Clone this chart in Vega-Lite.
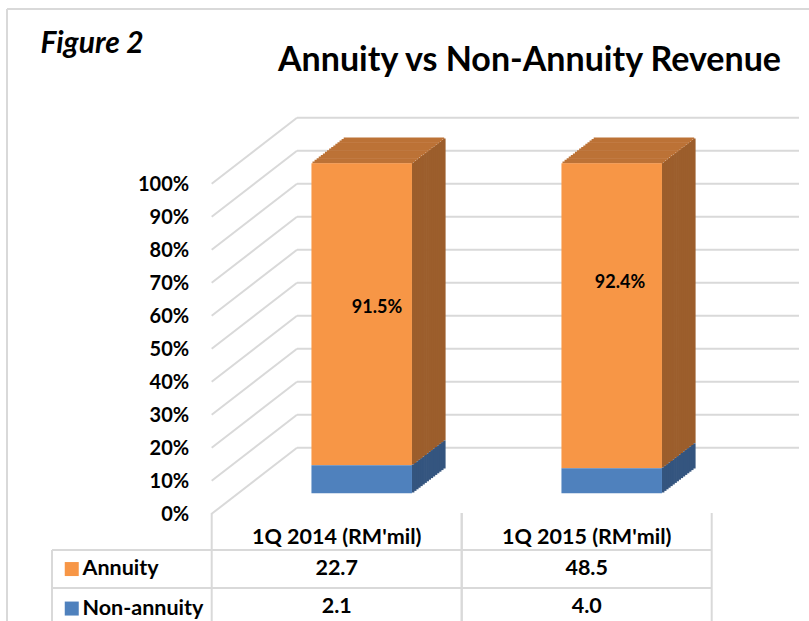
{
 "$schema": "https://vega.github.io/schema/vega-lite/v6.json",
 "width": 500, "height": 330,
 "autosize": {"type": "none"},
 "padding": {"left": 211.7, "top": 163.3, "right": 97.3, "bottom": 127.7},
 "background": "#FFFFFF",
 "config": {
  "view": {"stroke": null},
  "font": "Lato",
  "axis": {"domain": false, "ticks": false, "grid": false, "labelOverlap": false, "labelFont": "Lato", "labelFontWeight": "bold", "labelColor": "#000000", "titleFont": "Lato", "titleColor": "#000000"},
  "axisY": {"labelOverlap": false, "tickCount": 11},
  "legend": {"labelFont": "Lato"}
 },
 "datasets": {
  "rev": [
   {"category": "1Q 2014 (RM'mil)", "series": "Annuity", "value": 22.7, "share": 0.915},
   {"category": "1Q 2014 (RM'mil)", "series": "Non-annuity", "value": 2.1, "share": 0.085},
   {"category": "1Q 2015 (RM'mil)", "series": "Annuity", "value": 48.5, "share": 0.924},
   {"category": "1Q 2015 (RM'mil)", "series": "Non-annuity", "value": 4.0, "share": 0.076}
  ],
  "ticks": [{"v": 0}, {"v": 0.1}, {"v": 0.2}, {"v": 0.3}, {"v": 0.4}, {"v": 0.5}, {"v": 0.6}, {"v": 0.7}, {"v": 0.8}, {"v": 0.9}, {"v": 1}]
 },
 "layer": [
  {"data": {"name": "rev"}, "mark": {"type": "rule", "color": "#D9D9D9", "strokeWidth": 2, "xOffset": -329.7, "yOffset": -154.3, "y2Offset": 130},
   "encoding": {"x": {"datum": "1Q 2014 (RM'mil)", "type": "nominal"}, "y": {"datum": 1, "type": "quantitative"}, "y2": {"datum": 0}}},
  {"data": {"name": "rev"}, "mark": {"type": "rule", "color": "#D9D9D9", "strokeWidth": 2, "xOffset": -329.7, "x2Offset": 240, "yOffset": -154.3},
   "encoding": {"x": {"datum": "1Q 2014 (RM'mil)", "type": "nominal"}, "x2": {"datum": "1Q 2015 (RM'mil)"}, "y": {"datum": 1, "type": "quantitative"}}},
  {"data": {"name": "ticks"}, "mark": {"type": "rule", "color": "#D9D9D9", "strokeWidth": 2, "xOffset": -125, "x2Offset": -39.7, "yOffset": 20.5, "y2Offset": -45.5},
   "encoding": {"x": {"datum": "1Q 2014 (RM'mil)", "type": "nominal"}, "x2": {"datum": "1Q 2014 (RM'mil)"}, "y": {"field": "v", "type": "quantitative"}, "y2": {"field": "v"}}},
  {"data": {"name": "ticks"}, "mark": {"type": "rule", "color": "#D9D9D9", "strokeWidth": 2, "xOffset": -39.7, "x2Offset": 212.3, "yOffset": -45.5},
   "encoding": {"x": {"datum": "1Q 2014 (RM'mil)", "type": "nominal"}, "x2": {"datum": "1Q 2015 (RM'mil)"}, "y": {"field": "v", "type": "quantitative"}}},

  {"data": {"name": "rev"}, "mark": {"type": "bar", "width": 2.8, "xOffset": 107.49, "yOffset": -24.8, "y2Offset": -24.8}, "encoding": {"x": {"field": "category", "type": "nominal"}, "y": {"field": "value", "type": "quantitative", "stack": "normalize"}, "detail": {"field": "series"}, "order": {"field": "series", "sort": "descending"}, "fill": {"condition": {"test": "datum.series === 'Annuity'", "value": "#9C5E2C"}, "value": "#34557F"}}},
  {"data": {"name": "rev"}, "mark": {"type": "bar", "width": 2.8, "xOffset": 105.41, "yOffset": -23.2, "y2Offset": -23.2}, "encoding": {"x": {"field": "category", "type": "nominal"}, "y": {"field": "value", "type": "quantitative", "stack": "normalize"}, "detail": {"field": "series"}, "order": {"field": "series", "sort": "descending"}, "fill": {"condition": {"test": "datum.series === 'Annuity'", "value": "#9C5E2C"}, "value": "#34557F"}}},
  {"data": {"name": "rev"}, "mark": {"type": "bar", "width": 2.8, "xOffset": 103.33, "yOffset": -21.6, "y2Offset": -21.6}, "encoding": {"x": {"field": "category", "type": "nominal"}, "y": {"field": "value", "type": "quantitative", "stack": "normalize"}, "detail": {"field": "series"}, "order": {"field": "series", "sort": "descending"}, "fill": {"condition": {"test": "datum.series === 'Annuity'", "value": "#9C5E2C"}, "value": "#34557F"}}},
  {"data": {"name": "rev"}, "mark": {"type": "bar", "width": 2.8, "xOffset": 101.25, "yOffset": -20.0, "y2Offset": -20.0}, "encoding": {"x": {"field": "category", "type": "nominal"}, "y": {"field": "value", "type": "quantitative", "stack": "normalize"}, "detail": {"field": "series"}, "order": {"field": "series", "sort": "descending"}, "fill": {"condition": {"test": "datum.series === 'Annuity'", "value": "#9C5E2C"}, "value": "#34557F"}}},
  {"data": {"name": "rev"}, "mark": {"type": "bar", "width": 2.8, "xOffset": 99.17, "yOffset": -18.4, "y2Offset": -18.4}, "encoding": {"x": {"field": "category", "type": "nominal"}, "y": {"field": "value", "type": "quantitative", "stack": "normalize"}, "detail": {"field": "series"}, "order": {"field": "series", "sort": "descending"}, "fill": {"condition": {"test": "datum.series === 'Annuity'", "value": "#9C5E2C"}, "value": "#34557F"}}},
  {"data": {"name": "rev"}, "mark": {"type": "bar", "width": 2.8, "xOffset": 97.09, "yOffset": -16.8, "y2Offset": -16.8}, "encoding": {"x": {"field": "category", "type": "nominal"}, "y": {"field": "value", "type": "quantitative", "stack": "normalize"}, "detail": {"field": "series"}, "order": {"field": "series", "sort": "descending"}, "fill": {"condition": {"test": "datum.series === 'Annuity'", "value": "#9C5E2C"}, "value": "#34557F"}}},
  {"data": {"name": "rev"}, "mark": {"type": "bar", "width": 2.8, "xOffset": 95.01, "yOffset": -15.2, "y2Offset": -15.2}, "encoding": {"x": {"field": "category", "type": "nominal"}, "y": {"field": "value", "type": "quantitative", "stack": "normalize"}, "detail": {"field": "series"}, "order": {"field": "series", "sort": "descending"}, "fill": {"condition": {"test": "datum.series === 'Annuity'", "value": "#9C5E2C"}, "value": "#34557F"}}},
  {"data": {"name": "rev"}, "mark": {"type": "bar", "width": 2.8, "xOffset": 92.93, "yOffset": -13.6, "y2Offset": -13.6}, "encoding": {"x": {"field": "category", "type": "nominal"}, "y": {"field": "value", "type": "quantitative", "stack": "normalize"}, "detail": {"field": "series"}, "order": {"field": "series", "sort": "descending"}, "fill": {"condition": {"test": "datum.series === 'Annuity'", "value": "#9C5E2C"}, "value": "#34557F"}}},
  {"data": {"name": "rev"}, "mark": {"type": "bar", "width": 2.8, "xOffset": 90.85, "yOffset": -12.0, "y2Offset": -12.0}, "encoding": {"x": {"field": "category", "type": "nominal"}, "y": {"field": "value", "type": "quantitative", "stack": "normalize"}, "detail": {"field": "series"}, "order": {"field": "series", "sort": "descending"}, "fill": {"condition": {"test": "datum.series === 'Annuity'", "value": "#9C5E2C"}, "value": "#34557F"}}},
  {"data": {"name": "rev"}, "mark": {"type": "bar", "width": 2.8, "xOffset": 88.77, "yOffset": -10.4, "y2Offset": -10.4}, "encoding": {"x": {"field": "category", "type": "nominal"}, "y": {"field": "value", "type": "quantitative", "stack": "normalize"}, "detail": {"field": "series"}, "order": {"field": "series", "sort": "descending"}, "fill": {"condition": {"test": "datum.series === 'Annuity'", "value": "#9C5E2C"}, "value": "#34557F"}}},
  {"data": {"name": "rev"}, "mark": {"type": "bar", "width": 2.8, "xOffset": 86.69, "yOffset": -8.8, "y2Offset": -8.8}, "encoding": {"x": {"field": "category", "type": "nominal"}, "y": {"field": "value", "type": "quantitative", "stack": "normalize"}, "detail": {"field": "series"}, "order": {"field": "series", "sort": "descending"}, "fill": {"condition": {"test": "datum.series === 'Annuity'", "value": "#9C5E2C"}, "value": "#34557F"}}},
  {"data": {"name": "rev"}, "mark": {"type": "bar", "width": 2.8, "xOffset": 84.61, "yOffset": -7.2, "y2Offset": -7.2}, "encoding": {"x": {"field": "category", "type": "nominal"}, "y": {"field": "value", "type": "quantitative", "stack": "normalize"}, "detail": {"field": "series"}, "order": {"field": "series", "sort": "descending"}, "fill": {"condition": {"test": "datum.series === 'Annuity'", "value": "#9C5E2C"}, "value": "#34557F"}}},
  {"data": {"name": "rev"}, "mark": {"type": "bar", "width": 2.8, "xOffset": 82.53, "yOffset": -5.6, "y2Offset": -5.6}, "encoding": {"x": {"field": "category", "type": "nominal"}, "y": {"field": "value", "type": "quantitative", "stack": "normalize"}, "detail": {"field": "series"}, "order": {"field": "series", "sort": "descending"}, "fill": {"condition": {"test": "datum.series === 'Annuity'", "value": "#9C5E2C"}, "value": "#34557F"}}},
  {"data": {"name": "rev"}, "mark": {"type": "bar", "width": 2.8, "xOffset": 80.45, "yOffset": -4.0, "y2Offset": -4.0}, "encoding": {"x": {"field": "category", "type": "nominal"}, "y": {"field": "value", "type": "quantitative", "stack": "normalize"}, "detail": {"field": "series"}, "order": {"field": "series", "sort": "descending"}, "fill": {"condition": {"test": "datum.series === 'Annuity'", "value": "#9C5E2C"}, "value": "#34557F"}}},
  {"data": {"name": "rev"}, "mark": {"type": "bar", "width": 2.8, "xOffset": 78.37, "yOffset": -2.4, "y2Offset": -2.4}, "encoding": {"x": {"field": "category", "type": "nominal"}, "y": {"field": "value", "type": "quantitative", "stack": "normalize"}, "detail": {"field": "series"}, "order": {"field": "series", "sort": "descending"}, "fill": {"condition": {"test": "datum.series === 'Annuity'", "value": "#9C5E2C"}, "value": "#34557F"}}},
  {"data": {"name": "rev"}, "mark": {"type": "bar", "width": 2.8, "xOffset": 76.29, "yOffset": -0.8, "y2Offset": -0.8}, "encoding": {"x": {"field": "category", "type": "nominal"}, "y": {"field": "value", "type": "quantitative", "stack": "normalize"}, "detail": {"field": "series"}, "order": {"field": "series", "sort": "descending"}, "fill": {"condition": {"test": "datum.series === 'Annuity'", "value": "#9C5E2C"}, "value": "#34557F"}}},

  {"data": {"name": "rev"}, "transform": [{"filter": {"field": "series", "equal": "Annuity"}}], "mark": {"type": "bar", "width": 100.5, "color": "#BC7236", "xOffset": 57.24, "yOffset": -23.7, "y2Offset": -25.9}, "encoding": {"x": {"field": "category", "type": "nominal"}, "y": {"datum": 1, "type": "quantitative"}, "y2": {"datum": 1}}},
  {"data": {"name": "rev"}, "transform": [{"filter": {"field": "series", "equal": "Annuity"}}], "mark": {"type": "bar", "width": 100.5, "color": "#BC7236", "xOffset": 55.16, "yOffset": -22.1, "y2Offset": -24.3}, "encoding": {"x": {"field": "category", "type": "nominal"}, "y": {"datum": 1, "type": "quantitative"}, "y2": {"datum": 1}}},
  {"data": {"name": "rev"}, "transform": [{"filter": {"field": "series", "equal": "Annuity"}}], "mark": {"type": "bar", "width": 100.5, "color": "#BC7236", "xOffset": 53.08, "yOffset": -20.5, "y2Offset": -22.7}, "encoding": {"x": {"field": "category", "type": "nominal"}, "y": {"datum": 1, "type": "quantitative"}, "y2": {"datum": 1}}},
  {"data": {"name": "rev"}, "transform": [{"filter": {"field": "series", "equal": "Annuity"}}], "mark": {"type": "bar", "width": 100.5, "color": "#BC7236", "xOffset": 51.0, "yOffset": -18.9, "y2Offset": -21.1}, "encoding": {"x": {"field": "category", "type": "nominal"}, "y": {"datum": 1, "type": "quantitative"}, "y2": {"datum": 1}}},
  {"data": {"name": "rev"}, "transform": [{"filter": {"field": "series", "equal": "Annuity"}}], "mark": {"type": "bar", "width": 100.5, "color": "#BC7236", "xOffset": 48.92, "yOffset": -17.3, "y2Offset": -19.5}, "encoding": {"x": {"field": "category", "type": "nominal"}, "y": {"datum": 1, "type": "quantitative"}, "y2": {"datum": 1}}},
  {"data": {"name": "rev"}, "transform": [{"filter": {"field": "series", "equal": "Annuity"}}], "mark": {"type": "bar", "width": 100.5, "color": "#BC7236", "xOffset": 46.84, "yOffset": -15.7, "y2Offset": -17.9}, "encoding": {"x": {"field": "category", "type": "nominal"}, "y": {"datum": 1, "type": "quantitative"}, "y2": {"datum": 1}}},
  {"data": {"name": "rev"}, "transform": [{"filter": {"field": "series", "equal": "Annuity"}}], "mark": {"type": "bar", "width": 100.5, "color": "#BC7236", "xOffset": 44.76, "yOffset": -14.1, "y2Offset": -16.3}, "encoding": {"x": {"field": "category", "type": "nominal"}, "y": {"datum": 1, "type": "quantitative"}, "y2": {"datum": 1}}},
  {"data": {"name": "rev"}, "transform": [{"filter": {"field": "series", "equal": "Annuity"}}], "mark": {"type": "bar", "width": 100.5, "color": "#BC7236", "xOffset": 42.68, "yOffset": -12.5, "y2Offset": -14.7}, "encoding": {"x": {"field": "category", "type": "nominal"}, "y": {"datum": 1, "type": "quantitative"}, "y2": {"datum": 1}}},
  {"data": {"name": "rev"}, "transform": [{"filter": {"field": "series", "equal": "Annuity"}}], "mark": {"type": "bar", "width": 100.5, "color": "#BC7236", "xOffset": 40.6, "yOffset": -10.9, "y2Offset": -13.1}, "encoding": {"x": {"field": "category", "type": "nominal"}, "y": {"datum": 1, "type": "quantitative"}, "y2": {"datum": 1}}},
  {"data": {"name": "rev"}, "transform": [{"filter": {"field": "series", "equal": "Annuity"}}], "mark": {"type": "bar", "width": 100.5, "color": "#BC7236", "xOffset": 38.52, "yOffset": -9.3, "y2Offset": -11.5}, "encoding": {"x": {"field": "category", "type": "nominal"}, "y": {"datum": 1, "type": "quantitative"}, "y2": {"datum": 1}}},
  {"data": {"name": "rev"}, "transform": [{"filter": {"field": "series", "equal": "Annuity"}}], "mark": {"type": "bar", "width": 100.5, "color": "#BC7236", "xOffset": 36.44, "yOffset": -7.7, "y2Offset": -9.9}, "encoding": {"x": {"field": "category", "type": "nominal"}, "y": {"datum": 1, "type": "quantitative"}, "y2": {"datum": 1}}},
  {"data": {"name": "rev"}, "transform": [{"filter": {"field": "series", "equal": "Annuity"}}], "mark": {"type": "bar", "width": 100.5, "color": "#BC7236", "xOffset": 34.36, "yOffset": -6.1, "y2Offset": -8.3}, "encoding": {"x": {"field": "category", "type": "nominal"}, "y": {"datum": 1, "type": "quantitative"}, "y2": {"datum": 1}}},
  {"data": {"name": "rev"}, "transform": [{"filter": {"field": "series", "equal": "Annuity"}}], "mark": {"type": "bar", "width": 100.5, "color": "#BC7236", "xOffset": 32.28, "yOffset": -4.5, "y2Offset": -6.7}, "encoding": {"x": {"field": "category", "type": "nominal"}, "y": {"datum": 1, "type": "quantitative"}, "y2": {"datum": 1}}},
  {"data": {"name": "rev"}, "transform": [{"filter": {"field": "series", "equal": "Annuity"}}], "mark": {"type": "bar", "width": 100.5, "color": "#BC7236", "xOffset": 30.2, "yOffset": -2.9, "y2Offset": -5.1}, "encoding": {"x": {"field": "category", "type": "nominal"}, "y": {"datum": 1, "type": "quantitative"}, "y2": {"datum": 1}}},
  {"data": {"name": "rev"}, "transform": [{"filter": {"field": "series", "equal": "Annuity"}}], "mark": {"type": "bar", "width": 100.5, "color": "#BC7236", "xOffset": 28.12, "yOffset": -1.3, "y2Offset": -3.5}, "encoding": {"x": {"field": "category", "type": "nominal"}, "y": {"datum": 1, "type": "quantitative"}, "y2": {"datum": 1}}},
  {"data": {"name": "rev"}, "transform": [{"filter": {"field": "series", "equal": "Annuity"}}], "mark": {"type": "bar", "width": 100.5, "color": "#BC7236", "xOffset": 26.04, "yOffset": 0.3, "y2Offset": -1.9}, "encoding": {"x": {"field": "category", "type": "nominal"}, "y": {"datum": 1, "type": "quantitative"}, "y2": {"datum": 1}}},

  {"data": {"name": "rev"},
   "mark": {"type": "bar", "width": 100.5, "xOffset": 25},
   "encoding": {
    "x": {"field": "category", "type": "nominal", "sort": null, "scale": {"paddingInner": 0, "paddingOuter": 0},
     "axis": {"labelAngle": 0, "labelAlign": "center", "labelFontSize": 21.5, "labelPadding": 43.7, "labelBaseline": "middle", "title": "Annuity vs Non-Annuity Revenue", "titleX": 317.3, "titleY": -423.3, "titleAlign": "center", "titleBaseline": "alphabetic", "titleAngle": 0, "titleFontSize": 34, "titleFontWeight": "bold"}},
    "y": {"field": "value", "type": "quantitative", "stack": "normalize", "scale": {"domain": [0, 1], "nice": false},
     "axis": {"values": [0, 0.1, 0.2, 0.3, 0.4, 0.5, 0.6, 0.7, 0.8, 0.9, 1], "format": ".0%", "labelOverlap": false, "labelFontSize": 20, "labelPadding": 23, "labelOffset": 21, "title": "Figure 2", "titleX": -171.7, "titleY": -111.3, "titleAngle": 0, "titleAlign": "left", "titleBaseline": "alphabetic", "titleFontSize": 30, "titleFontWeight": "bold", "titleFontStyle": "italic"}},
    "color": {"field": "series", "type": "nominal", "scale": {"domain": ["Annuity", "Non-annuity"], "range": ["#F79646", "#4F81BD"]},
     "legend": {"orient": "none", "legendX": -150.7, "legendY": 395, "title": null, "symbolType": "square", "symbolSize": 196, "symbolStrokeWidth": 0, "labelFontSize": 21.5, "labelFontWeight": "bold", "labelColor": "#000000", "rowPadding": 16.5, "labelOffset": 0, "padding": 0}},
    "order": {"field": "series", "sort": "descending"}
   }},

  {"data": {"name": "rev"}, "transform": [{"filter": {"and": [{"field": "category", "equal": "1Q 2014 (RM'mil)"}, {"field": "series", "equal": "Annuity"}]}}],
   "mark": {"type": "text", "font": "Lato", "fontSize": 18, "fontWeight": "bold", "color": "#000000", "baseline": "middle", "dx": 40.3, "dy": -20.3},
   "encoding": {"x": {"field": "category", "type": "nominal"}, "y": {"datum": 0.5, "type": "quantitative"}, "text": {"field": "share", "type": "quantitative", "format": ".1%"}}},
  {"data": {"name": "rev"}, "transform": [{"filter": {"and": [{"field": "category", "equal": "1Q 2015 (RM'mil)"}, {"field": "series", "equal": "Annuity"}]}}],
   "mark": {"type": "text", "font": "Lato", "fontSize": 18, "fontWeight": "bold", "color": "#000000", "baseline": "middle", "dx": 33.3, "dy": -45.3},
   "encoding": {"x": {"field": "category", "type": "nominal"}, "y": {"datum": 0.5, "type": "quantitative"}, "text": {"field": "share", "type": "quantitative", "format": ".1%"}}},

  {"data": {"name": "rev"}, "transform": [{"filter": {"field": "series", "equal": "Annuity"}}], "mark": {"type": "rule", "color": "#D9D9D9", "strokeWidth": 2, "xOffset": -125, "yOffset": 19.7, "y2Offset": 130},
   "encoding": {"x": {"field": "category", "type": "nominal"}, "y": {"datum": 0, "type": "quantitative"}, "y2": {"datum": 0}}},
  {"data": {"name": "rev"}, "transform": [{"filter": {"field": "series", "equal": "Annuity"}}], "mark": {"type": "rule", "color": "#D9D9D9", "strokeWidth": 2, "xOffset": 125, "yOffset": 19.7, "y2Offset": 130},
   "encoding": {"x": {"field": "category", "type": "nominal"}, "y": {"datum": 0, "type": "quantitative"}, "y2": {"datum": 0}}},
  {"data": {"name": "rev"}, "mark": {"type": "rule", "color": "#D9D9D9", "strokeWidth": 2, "xOffset": -284.7, "yOffset": 56.7, "y2Offset": 130},
   "encoding": {"x": {"datum": "1Q 2014 (RM'mil)", "type": "nominal"}, "y": {"datum": 0, "type": "quantitative"}, "y2": {"datum": 0}}},
  {"data": {"name": "rev"}, "mark": {"type": "rule", "color": "#D9D9D9", "strokeWidth": 2, "xOffset": -284.7, "x2Offset": 125, "yOffset": 56.7},
   "encoding": {"x": {"datum": "1Q 2014 (RM'mil)", "type": "nominal"}, "x2": {"datum": "1Q 2015 (RM'mil)"}, "y": {"datum": 0, "type": "quantitative"}}},
  {"data": {"name": "rev"}, "mark": {"type": "rule", "color": "#D9D9D9", "strokeWidth": 2, "xOffset": -284.7, "x2Offset": 125, "yOffset": 94.7},
   "encoding": {"x": {"datum": "1Q 2014 (RM'mil)", "type": "nominal"}, "x2": {"datum": "1Q 2015 (RM'mil)"}, "y": {"datum": 0, "type": "quantitative"}}},

  {"data": {"name": "rev"}, "transform": [{"filter": {"field": "series", "equal": "Annuity"}}],
   "mark": {"type": "text", "font": "Lato", "fontSize": 21.5, "fontWeight": "bold", "color": "#000000", "baseline": "middle", "dy": 75.7},
   "encoding": {"x": {"field": "category", "type": "nominal"}, "y": {"datum": 0, "type": "quantitative"}, "text": {"field": "value", "type": "quantitative", "format": ".1f"}}},
  {"data": {"name": "rev"}, "transform": [{"filter": {"field": "series", "equal": "Non-annuity"}}],
   "mark": {"type": "text", "font": "Lato", "fontSize": 21.5, "fontWeight": "bold", "color": "#000000", "baseline": "middle", "dy": 113.7},
   "encoding": {"x": {"field": "category", "type": "nominal"}, "y": {"datum": 0, "type": "quantitative"}, "text": {"field": "value", "type": "quantitative", "format": ".1f"}}}
 ]
}
